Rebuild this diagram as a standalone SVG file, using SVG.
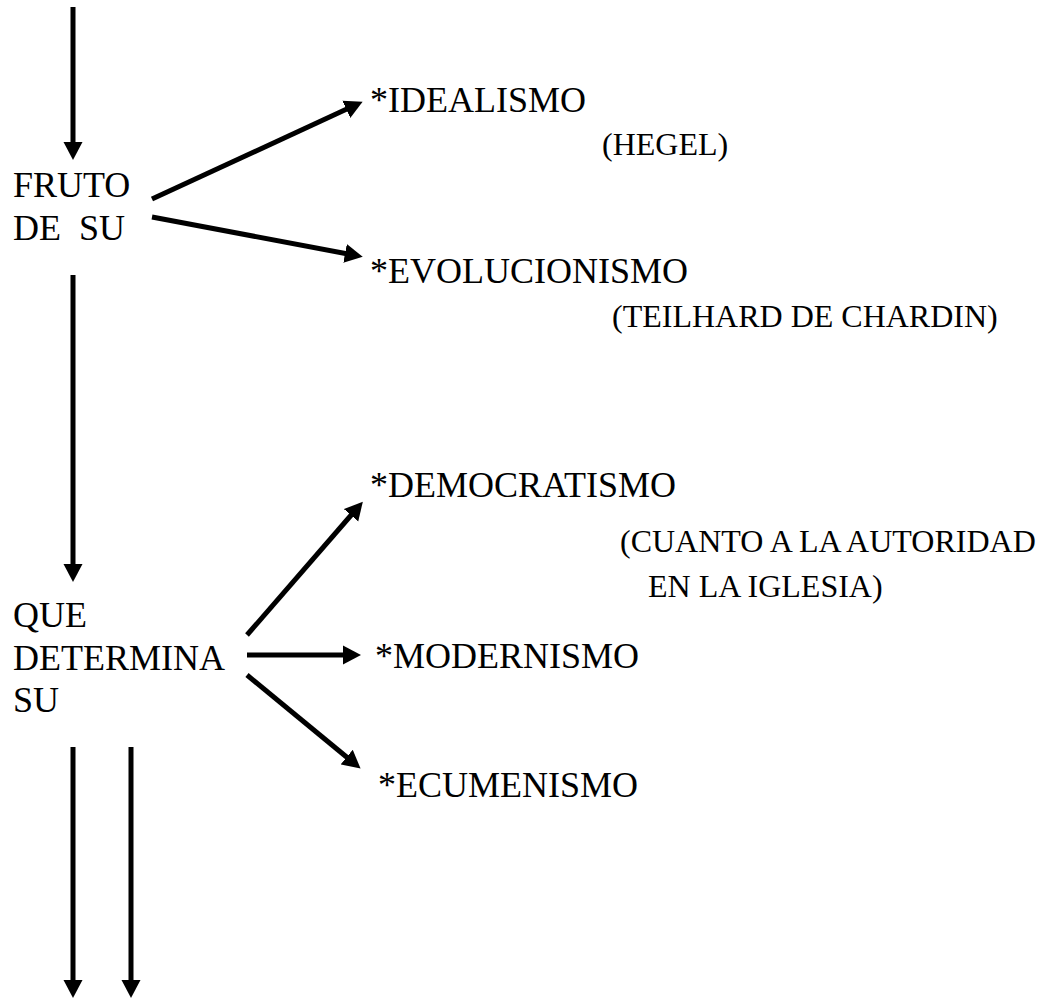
<svg xmlns="http://www.w3.org/2000/svg" width="1062" height="1003" viewBox="0 0 1062 1003">
<style>
text{font-family:'Liberation Serif','Times New Roman',Times,serif;fill:#000;white-space:pre}
.t{font-size:36px}
.s{font-size:32px}
.c{stroke:#000;stroke-width:5;fill:none;marker-end:url(#ah)}
</style>
<defs>
<marker id="ah" markerUnits="userSpaceOnUse" markerWidth="20" markerHeight="20" refX="3" refY="9.5" orient="auto" viewBox="0 0 20 19">
<path d="M0,0 L18,9.5 L0,19 z" fill="#000"/>
</marker>
</defs>
<rect width="1062" height="1003" fill="#fff"/>
<g id="connectors">
<line class="c" x1="73" y1="7" x2="73" y2="145"/>
<line class="c" x1="152" y1="199" x2="349" y2="108"/>
<line class="c" x1="152" y1="217" x2="348" y2="254"/>
<line class="c" x1="73" y1="275" x2="73" y2="567"/>
<line class="c" x1="247" y1="635" x2="353" y2="513"/>
<line class="c" x1="247" y1="655" x2="346" y2="655"/>
<line class="c" x1="247" y1="675" x2="349" y2="759"/>
<line class="c" x1="73" y1="747" x2="73" y2="983"/>
<line class="c" x1="131" y1="747" x2="131" y2="983"/>
</g>
<g id="fruto"><text class="t" x="13" y="197">FRUTO</text><text class="t" x="13" y="240" xml:space="preserve">DE  SU</text></g>
<g id="idealismo"><text class="t" x="370" y="112">*IDEALISMO</text></g>
<g id="hegel"><text class="s" x="602" y="155">(HEGEL)</text></g>
<g id="evolucionismo"><text class="t" x="370" y="283">*EVOLUCIONISMO</text></g>
<g id="teilhard"><text class="s" x="612" y="327">(TEILHARD DE CHARDIN)</text></g>
<g id="democratismo"><text class="t" x="370" y="497">*DEMOCRATISMO</text></g>
<g id="cuanto"><text class="s" x="620" y="552">(CUANTO A LA AUTORIDAD</text><text class="s" x="648" y="597">EN LA IGLESIA)</text></g>
<g id="que"><text class="t" x="13" y="627">QUE</text><text class="t" x="13" y="670">DETERMINA</text><text class="t" x="13" y="712">SU</text></g>
<g id="modernismo"><text class="t" x="375" y="668">*MODERNISMO</text></g>
<g id="ecumenismo"><text class="t" x="378" y="797">*ECUMENISMO</text></g>
</svg>
